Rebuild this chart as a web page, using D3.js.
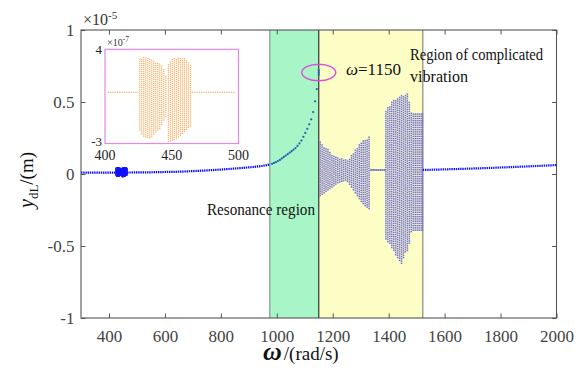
<!DOCTYPE html>
<html>
<head>
<meta charset="utf-8">
<script src="https://cdn.jsdelivr.net/npm/d3@7"></script>
<style>
body { margin: 0; background: #fff; }
svg text { font-family: "Liberation Serif", "Times New Roman", serif; }
</style>
</head>
<body>
<svg id="chart" width="586" height="378"></svg>
<script>
// axis ticks
const xTicks = [400, 600, 800, 1000, 1200, 1400, 1600, 1800, 2000];
const yTicks = [-1, -0.5, 0, 0.5, 1];
const insetXTicks = [400, 450, 500];
const insetYTicks = [-3, 4];

// regions (rad/s)
const resonanceRange = [975, 1150];
const complicatedRange = [1150, 1522];

// amplitude before resonance (x1e-5 m)
const lowOmega = [300, 350, 400, 450, 500, 550, 600, 650, 700, 750, 800, 850, 900, 950, 976];
const lowAmp = [0.009, 0.009, 0.010, 0.010, 0.011, 0.012, 0.014, 0.016, 0.020, 0.025, 0.031, 0.038, 0.046, 0.057, 0.066];

// resonance branch, sampled points
const resOmega = [983, 990, 997, 1004, 1011, 1018, 1025, 1032, 1039, 1046, 1053, 1060, 1067, 1074, 1081, 1088, 1095, 1102, 1109, 1116, 1123, 1130, 1137, 1143, 1150, 1150, 1150];
const resAmp = [0.071, 0.077, 0.083, 0.090, 0.098, 0.108, 0.118, 0.128, 0.138, 0.148, 0.158, 0.169, 0.180, 0.195, 0.212, 0.232, 0.258, 0.285, 0.314, 0.345, 0.380, 0.430, 0.505, 0.590, 0.690, 0.705, 0.720];

// after the complicated region
const highOmega = [1522, 1600, 1700, 1800, 1900, 2000];
const highAmp = [0.028, 0.032, 0.038, 0.045, 0.053, 0.062];

// complicated vibration: column envelopes (top / bottom)
const chaosOmega = [1155, 1162, 1169, 1176, 1183, 1190, 1197, 1204, 1211, 1218, 1225, 1232, 1239, 1246, 1253, 1260, 1267, 1274, 1281, 1288, 1295, 1302, 1309, 1316, 1323, 1330,
  1337, 1344, 1351, 1358, 1365, 1372, 1379, 1386,
  1390, 1397, 1404, 1411, 1418, 1425, 1432, 1439, 1446, 1453, 1460, 1467, 1474, 1481, 1488, 1495, 1502, 1509, 1516, 1521];
const chaosTop = [0.225, 0.21, 0.195, 0.18, 0.17, 0.155, 0.14, 0.13, 0.12, 0.115, 0.11, 0.105, 0.10, 0.098, 0.10, 0.115, 0.13, 0.15, 0.17, 0.19, 0.205, 0.215, 0.23, 0.24, 0.25, 0.26,
  0.028, 0.028, 0.028, 0.028, 0.028, 0.028, 0.028, 0.028,
  0.44, 0.46, 0.48, 0.50, 0.51, 0.52, 0.53, 0.54, 0.545, 0.55, 0.56, 0.565, 0.50, 0.43, 0.43, 0.43, 0.43, 0.43, 0.43, 0.43];
const chaosBottom = [-0.15, -0.14, -0.13, -0.12, -0.11, -0.10, -0.09, -0.08, -0.07, -0.06, -0.055, -0.05, -0.045, -0.042, -0.05, -0.07, -0.09, -0.11, -0.13, -0.15, -0.17, -0.19, -0.205, -0.22, -0.23, -0.24,
  0.028, 0.028, 0.028, 0.028, 0.028, 0.028, 0.028, 0.028,
  -0.45, -0.47, -0.48, -0.51, -0.53, -0.56, -0.58, -0.60, -0.62, -0.58, -0.54, -0.53, -0.48, -0.40, -0.39, -0.39, -0.39, -0.39, -0.39, -0.39];

// inset: 400-500 rad/s (x1e-7 m)
const insetBase = 0.8;
const insetBaseLeft = [402, 425];
const insetBaseRight = [465, 498];
const insetOmega = [426, 427.5, 429, 430.5, 432, 433.5, 435, 436.5, 438, 439.5, 441, 442.5, 444, 445.5,
  447.5, 449, 450.5, 452, 453.5, 455, 456.5, 458, 459.5, 461, 462.5, 464];
const insetTop = [3.3, 3.35, 3.4, 3.4, 3.35, 3.3, 3.2, 3.1, 3.05, 3.0, 2.95, 2.8, 2.6, 2.0,
  2.95, 3.1, 3.25, 3.3, 3.35, 3.4, 3.4, 3.35, 3.3, 3.15, 3.0, 2.9];
const insetBottom = [-2.0, -2.3, -2.45, -2.5, -2.55, -2.6, -2.5, -2.3, -2.15, -2.0, -1.9, -1.6, -1.25, -1.0,
  -2.85, -2.8, -2.75, -2.7, -2.6, -2.5, -2.4, -2.25, -2.1, -1.95, -1.8, -1.7];

const svg = d3.select("#chart");

const plot = { left: 81, right: 556.5, top: 30, bottom: 318 };
const x = d3.scaleLinear().domain([300, 2000]).range([plot.left, plot.right]);
const y = d3.scaleLinear().domain([-1, 1]).range([plot.bottom, plot.top]);

const inset = { left: 105, right: 238.5, top: 49.3, bottom: 143.5 };
const xi = d3.scaleLinear().domain([400, 500]).range([inset.left, inset.right]);
const yi = d3.scaleLinear().domain([-3, 4]).range([inset.bottom, inset.top]);

// region backgrounds
svg.append("rect")
  .attr("x", x(resonanceRange[0])).attr("y", plot.top)
  .attr("width", x(resonanceRange[1]) - x(resonanceRange[0]))
  .attr("height", plot.bottom - plot.top)
  .attr("fill", "#a8f5c8");
svg.append("rect")
  .attr("x", x(complicatedRange[0])).attr("y", plot.top)
  .attr("width", x(complicatedRange[1]) - x(complicatedRange[0]))
  .attr("height", plot.bottom - plot.top)
  .attr("fill", "#fdfdc6");

[[resonanceRange[0], "#7c9c8c"], [complicatedRange[0], "#333"], [complicatedRange[1], "#888"]].forEach(([w, c]) => {
  svg.append("line")
    .attr("x1", x(w)).attr("x2", x(w))
    .attr("y1", plot.top).attr("y2", plot.bottom)
    .attr("stroke", c).attr("stroke-width", 1.2);
});

// columns of dots from envelopes
function columnDots(omegas, tops, bottoms, step) {
  const pts = [];
  omegas.forEach((w, i) => {
    d3.range(bottoms[i], tops[i] + step * 0.01, step).forEach(v => pts.push([w, v]));
    if (tops[i] === bottoms[i]) pts.push([w, tops[i]]);
  });
  return pts;
}

const dotted = d3.line().curve(d3.curveMonotoneX);

// before resonance
svg.append("path")
  .attr("d", dotted.x((d, i) => x(lowOmega[i])).y((d, i) => y(lowAmp[i]))(lowOmega))
  .attr("fill", "none").attr("stroke", "#0a0aff")
  .attr("stroke-width", 2.2).attr("stroke-dasharray", "1.4 0.8");

// small bursts near 440 rad/s (same data as inset, rescaled to 1e-5)
svg.append("g").selectAll("rect")
  .data(columnDots(insetOmega, insetTop, insetBottom, 0.3))
  .join("rect")
  .attr("x", d => x(d[0]) - 0.7).attr("y", d => y(d[1] / 100 + 0.01) - 0.7)
  .attr("width", 1.4).attr("height", 1.4)
  .attr("fill", "#1515ff");

// resonance points
svg.append("g").selectAll("circle")
  .data(resOmega.map((w, i) => [w, resAmp[i]]))
  .join("circle")
  .attr("cx", d => x(d[0])).attr("cy", d => y(d[1]))
  .attr("r", 1.15).attr("fill", "#2f5fb5");

// complicated vibration
svg.append("g").selectAll("rect")
  .data(columnDots(chaosOmega, chaosTop, chaosBottom, 0.0155))
  .join("rect")
  .attr("x", d => x(d[0]) - 0.75).attr("y", d => y(d[1]) - 0.75)
  .attr("width", 1.5).attr("height", 1.5)
  .attr("fill", "#7070d4");

// after
svg.append("path")
  .attr("d", dotted.x((d, i) => x(highOmega[i])).y((d, i) => y(highAmp[i]))(highOmega))
  .attr("fill", "none").attr("stroke", "#1212ff")
  .attr("stroke-width", 2.2).attr("stroke-dasharray", "1.4 0.8");

// axes frame
svg.append("rect")
  .attr("x", plot.left).attr("y", plot.top)
  .attr("width", plot.right - plot.left).attr("height", plot.bottom - plot.top)
  .attr("fill", "none").attr("stroke", "#555").attr("stroke-width", 1.1);

const axisStyle = g => {
  g.select(".domain").remove();
  g.selectAll(".tick line").attr("stroke", "#555");
  g.selectAll(".tick text").attr("fill", "#444").style("font-size", "17px");
};

svg.append("g")
  .attr("transform", `translate(0,${plot.bottom})`)
  .call(d3.axisBottom(x).tickValues(xTicks).tickSize(-4.5).tickPadding(12).tickFormat(d3.format("d")))
  .call(axisStyle);
svg.append("g")
  .attr("transform", `translate(0,${plot.top})`)
  .call(d3.axisTop(x).tickValues(xTicks).tickSize(-4.5).tickFormat(""))
  .call(axisStyle);
svg.append("g")
  .attr("transform", `translate(${plot.left},0)`)
  .call(d3.axisLeft(y).tickValues(yTicks).tickSize(-4.5).tickPadding(6.5).tickFormat(d => String(d)))
  .call(axisStyle);
svg.append("g")
  .attr("transform", `translate(${plot.right},0)`)
  .call(d3.axisRight(y).tickValues(yTicks).tickSize(-4.5).tickFormat(""))
  .call(axisStyle);
svg.selectAll(".tick text").attr("font-family", "Liberation Serif");

// exponent
const exp5 = svg.append("text").attr("x", 83).attr("y", 25).attr("fill", "#333").style("font-size", "16px");
exp5.append("tspan").text("×10");
exp5.append("tspan").attr("dy", -6).style("font-size", "11px").text("-5");

// inset
svg.append("rect")
  .attr("x", inset.left).attr("y", inset.top)
  .attr("width", inset.right - inset.left).attr("height", inset.bottom - inset.top)
  .attr("fill", "#fff").attr("stroke", "#e08be0").attr("stroke-width", 1.2);

[insetBaseLeft, insetBaseRight].forEach(r => {
  svg.append("line")
    .attr("x1", xi(r[0])).attr("x2", xi(r[1]))
    .attr("y1", yi(insetBase)).attr("y2", yi(insetBase))
    .attr("stroke", "#f4b068").attr("stroke-width", 1.4).attr("stroke-dasharray", "1.3 1");
});

svg.append("g").selectAll("rect")
  .data(columnDots(insetOmega, insetTop, insetBottom, 0.15))
  .join("rect")
  .attr("x", d => xi(d[0]) - 0.6).attr("y", d => yi(d[1]) - 0.6)
  .attr("width", 1.2).attr("height", 1.2)
  .attr("fill", "#f5ad62");

svg.append("g").selectAll("text")
  .data(insetXTicks)
  .join("text")
  .attr("x", d => xi(d)).attr("y", 160)
  .attr("text-anchor", "middle")
  .style("font-size", "14px").attr("fill", "#222")
  .text(d => d);
svg.append("g").selectAll("text")
  .data(insetYTicks)
  .join("text")
  .attr("x", 102).attr("y", d => d < 0 ? yi(d) + 2.5 : yi(d) + 4.5)
  .attr("text-anchor", "end")
  .style("font-size", "13px").attr("fill", "#222")
  .text(d => String(d));

const exp7 = svg.append("text").attr("x", 107).attr("y", 46).attr("fill", "#333").style("font-size", "10px");
exp7.append("tspan").text("×10");
exp7.append("tspan").attr("dy", -4).style("font-size", "7.5px").text("-7");

// annotations
svg.append("ellipse")
  .attr("cx", x(1150)).attr("cy", y(0.705))
  .attr("rx", 17).attr("ry", 8.3)
  .attr("fill", "none").attr("stroke", "#d94fd9").attr("stroke-width", 1.4);

const peak = svg.append("text").attr("x", 346).attr("y", 75).attr("fill", "#111").style("font-size", "17px");
peak.append("tspan").style("font-style", "italic").text("ω");
peak.append("tspan").text("=1150");

svg.append("text").attr("x", 410).attr("y", 60).attr("fill", "#111").style("font-size", "16px")
  .attr("textLength", 133).attr("lengthAdjust", "spacingAndGlyphs")
  .text("Region of complicated");
svg.append("text").attr("x", 410).attr("y", 82).attr("fill", "#111").style("font-size", "16px")
  .attr("textLength", 58).attr("lengthAdjust", "spacingAndGlyphs")
  .text("vibration");

svg.append("text").attr("x", 207).attr("y", 214.5).attr("fill", "#111").style("font-size", "16px")
  .attr("textLength", 108).attr("lengthAdjust", "spacingAndGlyphs")
  .text("Resonance region");

// axis titles
const xTitle = svg.append("text").attr("x", 263).attr("y", 360).attr("fill", "#111");
xTitle.append("tspan").style("font-size", "26px").style("font-style", "italic").style("font-weight", "bold").text("ω");
xTitle.append("tspan").attr("dx", 2).style("font-size", "19px").text("/(rad/s)");

const yTitle = svg.append("text")
  .attr("transform", "translate(33,208) rotate(-90)")
  .attr("fill", "#111").style("font-size", "20px");
yTitle.append("tspan").style("font-style", "italic").text("y");
yTitle.append("tspan").attr("dy", 5).style("font-size", "13px").text("dL");
yTitle.append("tspan").attr("dy", -5).style("font-size", "19px").text("/(m)");
</script>
</body>
</html>
